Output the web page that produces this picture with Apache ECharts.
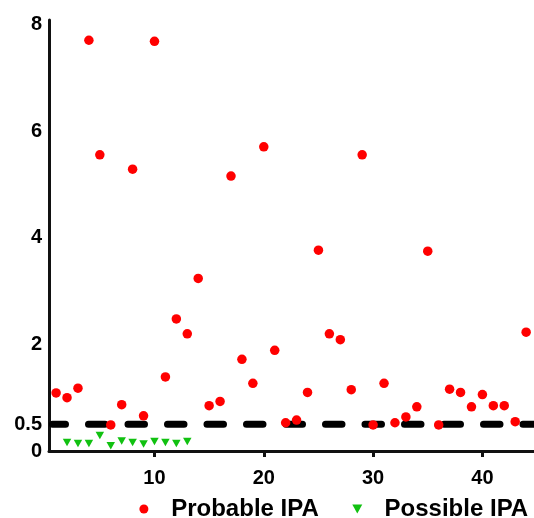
<!DOCTYPE html>
<html>
<head>
<meta charset="utf-8">
<script src="https://cdn.jsdelivr.net/npm/echarts@6/dist/echarts.min.js"></script>
<style>
html,body{margin:0;padding:0;background:#fff;}
#chart{width:534px;height:518px;}
</style>
</head>
<body>
<div id="chart"></div>
<script>
// Data
var probableX = [1,2,3,4,5,6,7,8,9,10,11,12,13,14,15,16,17,18,19,20,21,22,23,24,25,26,27,28,29,30,31,32,33,34,35,36,37,38,39,40,41,42,43,44];
var probableY = [1.09,1.00,1.18,7.71,5.56,0.49,0.87,5.29,0.66,7.69,1.39,2.48,2.20,3.24,0.85,0.93,5.16,1.72,1.27,5.71,1.89,0.53,0.58,1.10,3.77,2.20,2.09,1.15,5.56,0.49,1.27,0.53,0.64,0.83,3.75,0.49,1.16,1.10,0.83,1.06,0.85,0.85,0.55,2.23];
var possibleX = [2,3,4,5,6,7,8,9,10,11,12,13];
var possibleY = [0.16,0.14,0.14,0.29,0.10,0.19,0.16,0.13,0.18,0.16,0.14,0.18];
var xTicks = [10,20,30,40];
var yTicks = [0,0.5,2,4,6,8];
var threshold = 0.5;
var seriesNames = ['Probable IPA','Possible IPA'];

var X_MIN = 0.35, X_MAX = 44.72, Y_MIN = 0, Y_MAX = 8.09;
var LINE_START = 0.67; // threshold line starts just right of the axis so its round cap does not cross it

function zip(xs, ys){ return xs.map(function(x,i){ return [x, ys[i]]; }); }

var font = 'Liberation Sans, Arial, Helvetica, sans-serif';
var downTri = 'path://M0,0 L10,0 L5,9 Z';
var chart = echarts.init(document.getElementById('chart'), null, {renderer:'canvas'});
chart.setOption({
  animation: false,
  backgroundColor: '#ffffff',
  grid: {left: 49, right: 0, top: 20, bottom: 67, containLabel: false},
  legend: {
    data: [{name: seriesNames[0], icon: 'circle'}, {name: seriesNames[1], icon: downTri}],
    left: 139.4, top: 497, padding: 0,
    itemWidth: 44.6, itemHeight: 9, itemGap: 33.5,
    symbolKeepAspect: true,
    textStyle: {fontFamily: font, fontWeight: 'bold', fontSize: 24, color: '#000', lineHeight: 24}
  },
  xAxis: {
    type: 'value', min: X_MIN, max: X_MAX,
    splitLine: {show: false},
    axisLine: {show: true, onZero: false, lineStyle: {color: '#111', width: 3}},
    axisTick: {show: true, customValues: xTicks, length: 6, inside: false, lineStyle: {color: '#111', width: 3}},
    axisLabel: {customValues: xTicks, margin: 17, fontFamily: font, fontWeight: 'bold', fontSize: 20, color: '#000'}
  },
  yAxis: {
    type: 'value', min: Y_MIN, max: Y_MAX,
    splitLine: {show: false},
    axisLine: {show: true, lineStyle: {color: '#111', width: 3}},
    axisTick: {show: false},
    axisLabel: {customValues: yTicks, margin: 7, fontFamily: font, fontWeight: 'bold', fontSize: 20, color: '#000'}
  },
  series: [
    {
      type: 'line', name: 'threshold', silent: true,
      data: [[LINE_START, threshold], [X_MAX, threshold]],
      symbol: 'none',
      lineStyle: {color: '#000', width: 7, type: [16.5, 23], dashOffset: 3.5, cap: 'round'},
      z: 1
    },
    {
      type: 'scatter', name: seriesNames[0],
      data: zip(probableX, probableY),
      symbol: 'circle', symbolSize: 9.5,
      itemStyle: {color: '#ff0000', opacity: 1},
      z: 3
    },
    {
      type: 'scatter', name: seriesNames[1],
      data: zip(possibleX, possibleY),
      symbol: 'triangle', symbolSize: [8.5, 7.5], symbolRotate: 180,
      itemStyle: {color: '#11c111', opacity: 1},
      z: 3
    }
  ]
});
</script>
</body>
</html>
